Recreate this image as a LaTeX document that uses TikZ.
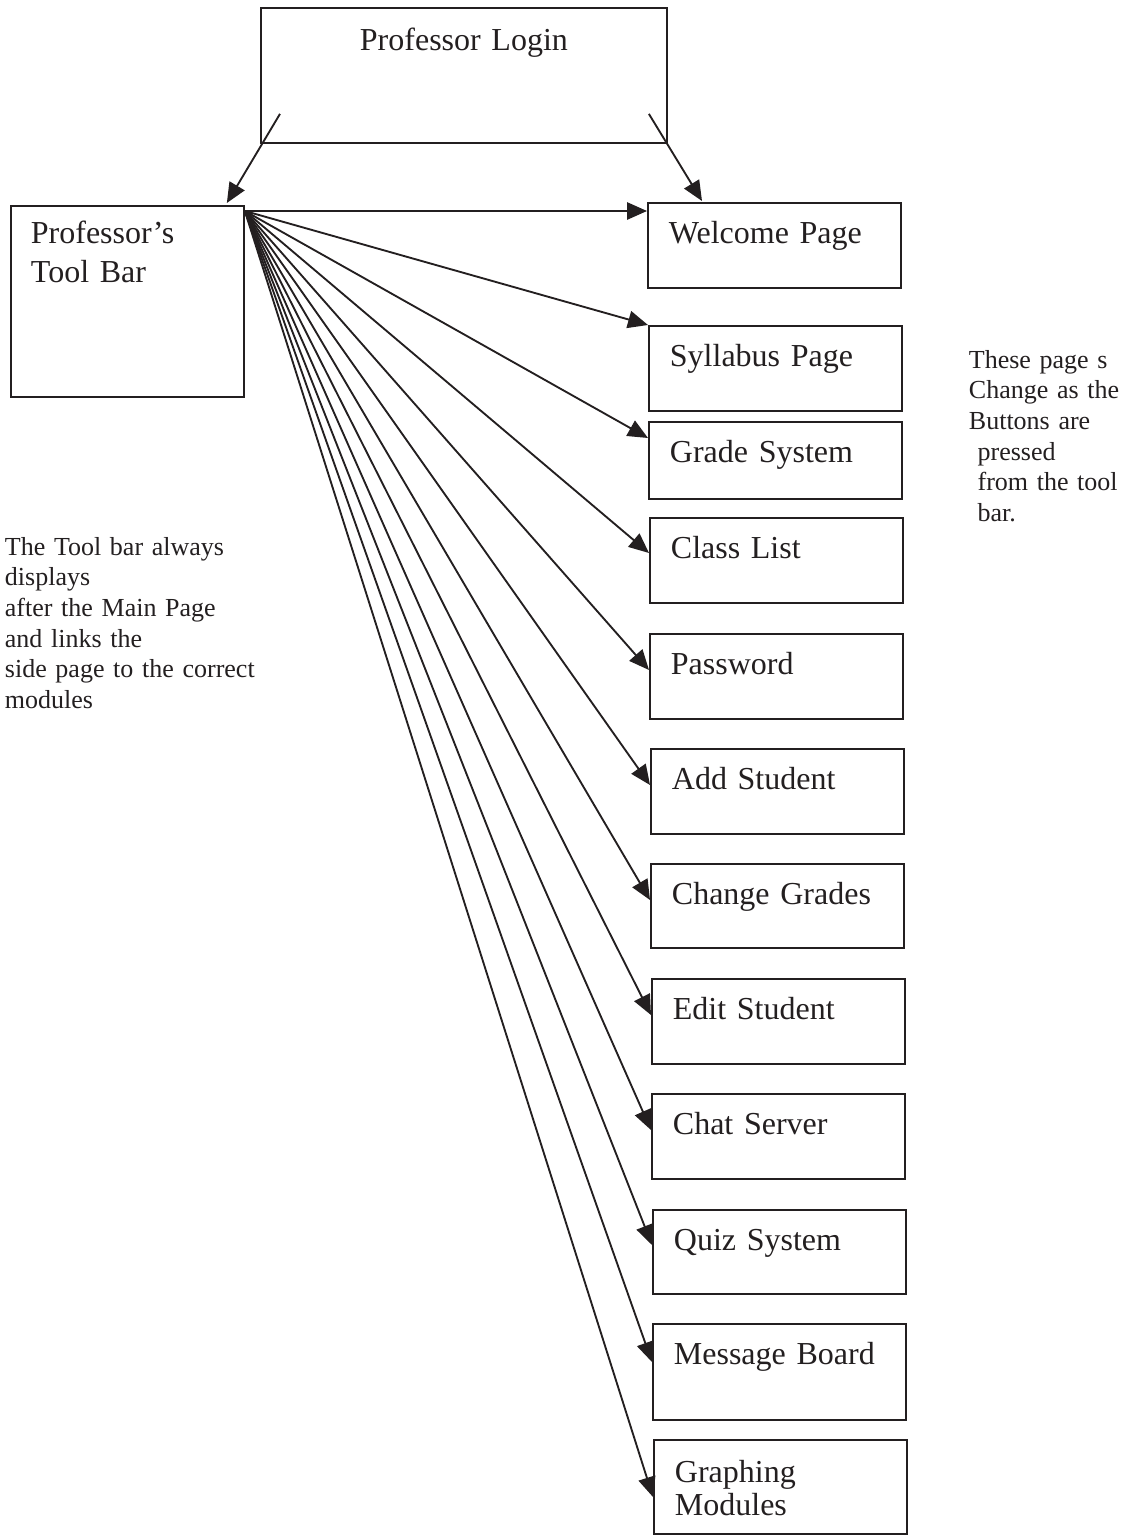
\documentclass[tikz,border=0pt]{standalone}
\usepackage{fontspec}
\setmainfont{Liberation Serif}
\usepackage{tikz}
\usetikzlibrary{arrows.meta}

\begin{document}
\begin{tikzpicture}[x=0.75pt,y=-0.75pt,line width=1.4pt,>={Triangle[length=15pt,width=13pt]}]
    \definecolor{ink}{RGB}{35,31,32}
    \useasboundingbox (0,0) rectangle (1124,1535);

    \fontsize{24pt}{27pt}\selectfont  % text size of the boxes
    \tikzstyle{format}=[rectangle,draw=ink,text=ink,anchor=north west,align=left,inner xsep=15.75pt,inner ysep=0pt,text width=158.25pt,text height=30.75pt]  % page boxes, text at top left
    \tikzstyle{note}=[anchor=base west,align=left,inner sep=0pt,text=ink,font=\fontsize{19.5pt}{23pt}\selectfont]  % loose remarks
    \tikzstyle{link}=[->,draw=ink]

    % login and tool bar
    \node[format,align=center,text width=273pt,text height=32.25pt,text depth=69pt](login) at (260,7){Professor Login};
    \node[format,inner xsep=15pt,text width=144.75pt,text height=28.5pt,text depth=114.75pt](bar) at (10,205){Professor’s\\[2pt]Tool Bar};

    % pages
    \node[format,text depth=33pt](welcome) at (647,202){Welcome Page};
    \node[format,text depth=33pt](syllabus) at (648,325){Syllabus Page};
    \node[format,text depth=27pt](grade) at (648,421){Grade System};
    \node[format,text depth=33pt](classlist) at (649,517){Class List};
    \node[format,text depth=33pt](password) at (649,633){Password};
    \node[format,text depth=33pt](addst) at (650,748){Add Student};
    \node[format,text depth=32.25pt](chgrades) at (650,863){Change Grades};
    \node[format,text depth=33pt](editst) at (651,978){Edit Student};
    \node[format,text depth=33pt](chat) at (651,1093){Chat Server};
    \node[format,text depth=32.25pt](quiz) at (652,1209){Quiz System};
    \node[format,text depth=41.25pt](msgboard) at (652,1323){Message Board};
    \node[format,text height=32.25pt,text depth=38.25pt](graphing) at (653,1439){Graphing\\[-2.25pt]Modules};

    % remarks
    \node[note,text width=200pt](barnote) at (4,555){The Tool bar always\\displays\\after the Main Page\\and links the\\side page to the correct\\modules};
    \node[note,text width=140pt](pagenote) at (968,368){These page s\\Change as the\\Buttons are\\\ pressed\\\ from the tool\\\ bar.};

    % lines
    \coordinate (hub) at ([yshift=-4.5pt]bar.north east);
    \draw[link]([xshift=15pt,yshift=22.5pt]login.south west)--([xshift=-13.5pt,yshift=1.5pt]bar.north east);
    \draw[link]([xshift=-14.25pt,yshift=22.5pt]login.south east)--([xshift=41.25pt,yshift=0.75pt]welcome.north west);
    \draw[link](hub)--([yshift=-6.75pt]welcome.north west);
    \draw[link](hub)--(syllabus.north west);
    \draw[link](hub)--([yshift=-12.75pt]grade.north west);
    \draw[link](hub)--([yshift=-27pt]classlist.north west);
    \draw[link](hub)--([yshift=-27.75pt]password.north west);
    \draw[link](hub)--([yshift=-27.75pt]addst.north west);
    \draw[link](hub)--([yshift=-27.75pt]chgrades.north west);
    \draw[link](hub)--([yshift=-27.75pt]editst.north west);
    \draw[link](hub)--([yshift=-27.75pt]chat.north west);
    \draw[link](hub)--([yshift=-27pt]quiz.north west);
    \draw[link](hub)--([yshift=-29.25pt]msgboard.north west);
    \draw[link](hub)--([yshift=-43.5pt]graphing.north west);
\end{tikzpicture}
\end{document}
